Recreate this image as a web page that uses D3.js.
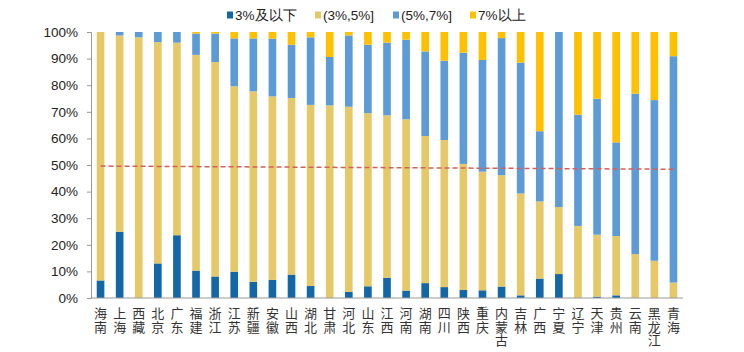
<!DOCTYPE html>
<html>
<head>
<meta charset="utf-8">
<script src="https://cdn.jsdelivr.net/npm/d3@7"></script>
<style>
  body { margin: 0; background: #fff; }
  svg text { font-family: "Liberation Sans", Arial, sans-serif; }
</style>
</head>
<body>
<svg id="chart"></svg>
<script>
// Provinces, left to right
const provinces = ["海南","上海","西藏","北京","广东","福建","浙江","江苏","新疆","安徽","山西",
  "湖北","甘肃","河北","山东","江西","河南","湖南","四川","陕西","重庆","内蒙古","吉林",
  "广西","宁夏","辽宁","天津","贵州","云南","黑龙江","青海"];

// Share of each range (%)
const low =   [6.6,24.9,0,13.0,23.6,10.3,8.1,9.9,6.1,6.8,8.8,4.5,0,2.3,4.4,7.6,2.8,5.6,4.1,3.0,2.9,4.3,1.0,7.3,9.0,0,0.5,1.0,0,0,0];
const mid =   [93.4,73.8,98.0,83.2,72.4,81.1,80.6,69.7,71.6,69.0,66.4,68.1,72.4,69.6,65.1,61.1,64.4,55.3,55.3,47.4,44.6,41.9,38.3,29.0,25.2,27.1,23.3,22.3,16.5,14.0,5.8];
const high =  [0,1.3,2.0,3.8,4.0,8.0,10.7,18.0,19.9,21.7,20.0,25.4,18.2,26.8,25.7,27.3,29.9,31.8,29.8,41.8,42.0,51.5,49.2,26.4,65.8,41.8,51.1,35.2,60.3,60.4,85.1];
const top7 =  [0,0,0,0,0,0.6,0.6,2.4,2.4,2.5,4.8,2.0,9.4,1.3,4.8,4.0,2.9,7.3,10.8,7.8,10.5,2.3,11.5,37.3,0,31.1,25.1,41.5,23.2,25.6,9.1];

const seriesNames = ["3%及以下", "(3%,5%]", "(5%,7%]", "7%以上"];
const seriesColors = ["#1467a7", "#e5c969", "#5c9bd6", "#ffc000"];
const yTicks = [0,10,20,30,40,50,60,70,80,90,100];
const refLine = [49.6, 48.4]; // red dashed line, start and end value

const width = 744, height = 352;
const margin = { top: 32, right: 61, bottom: 54, left: 91 };

const svg = d3.select("#chart").attr("width", width).attr("height", height);

// table for the stack
const rows = provinces.map((p, i) => ({ name: p, s0: low[i], s1: mid[i], s2: high[i], s3: top7[i] }));
const stack = d3.stack().keys(["s0","s1","s2","s3"])(rows);

const x = d3.scaleBand().domain(provinces)
    .range([margin.left, width - margin.right])
    .paddingInner(0.6).paddingOuter(0.3);
const y = d3.scaleLinear().domain([0, 100]).range([height - margin.bottom, margin.top]);

// bars
svg.append("g").selectAll("g")
  .data(stack)
  .join("g")
    .attr("fill", (d, i) => seriesColors[i])
  .selectAll("rect")
  .data(d => d)
  .join("rect")
    .attr("x", d => x(d.data.name))
    .attr("y", d => y(d[1]))
    .attr("width", x.bandwidth())
    .attr("height", d => Math.max(0, y(d[0]) - y(d[1])));

// y axis
const yAxis = svg.append("g")
    .attr("transform", `translate(${margin.left},0)`)
    .call(d3.axisLeft(y).tickValues(yTicks).tickFormat(d => d + "%").tickSize(4).tickPadding(9));
yAxis.select(".domain").attr("stroke", "#999");
yAxis.selectAll(".tick line").attr("stroke", "#999");
yAxis.selectAll(".tick text").attr("fill", "#222").style("font-size", "13.5px");

// x axis line
svg.append("line")
    .attr("x1", margin.left).attr("x2", width - margin.right)
    .attr("y1", y(0)).attr("y2", y(0))
    .attr("stroke", "#999");

// x labels, characters stacked vertically
const labels = svg.append("g").selectAll("text")
  .data(provinces)
  .join("text")
    .attr("x", d => x(d) + x.bandwidth() / 2)
    .attr("y", y(0) + 20)
    .attr("text-anchor", "middle")
    .attr("fill", "#333")
    .style("font-family", "'Noto Sans CJK SC', sans-serif")
    .style("font-size", "13px");
labels.selectAll("tspan")
  .data(d => d.split(""))
  .join("tspan")
    .attr("x", function() { return this.parentNode.getAttribute("x"); })
    .attr("dy", (d, i) => i === 0 ? 0 : 13.5)
    .text(d => d);

// red dashed reference line
svg.append("line")
    .attr("x1", x(provinces[0]) + x.bandwidth() / 2)
    .attr("x2", x(provinces[provinces.length - 1]) + x.bandwidth() / 2)
    .attr("y1", y(refLine[0]))
    .attr("y2", y(refLine[1]))
    .attr("stroke", "#d4605a")
    .attr("stroke-width", 1.5)
    .attr("stroke-dasharray", "5,3");

// legend
const legendX = [227, 315, 393, 470];
const legend = svg.append("g").selectAll("g")
  .data(seriesNames)
  .join("g")
    .attr("transform", (d, i) => `translate(${legendX[i]},15)`);
legend.append("rect")
    .attr("x", 0).attr("y", -3.5)
    .attr("width", 6).attr("height", 7)
    .attr("fill", (d, i) => seriesColors[i]);
legend.append("text")
    .attr("x", 8).attr("y", 0)
    .attr("dy", "0.35em")
    .attr("fill", "#222")
    .style("font-size", "13.5px")
    .text(d => d);
</script>
</body>
</html>
